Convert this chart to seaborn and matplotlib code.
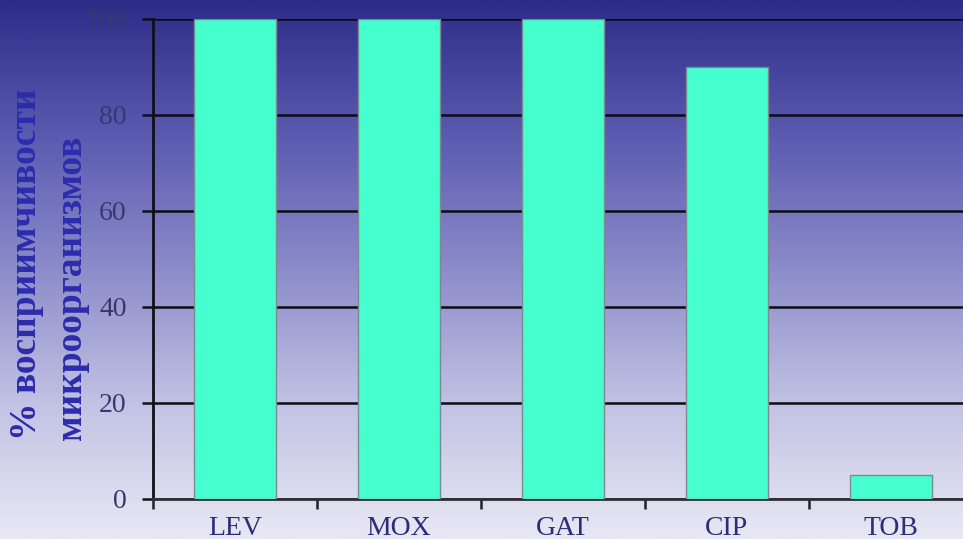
import numpy as np
import pandas as pd
import matplotlib
matplotlib.use("Agg")
import matplotlib.pyplot as plt
from matplotlib.colors import LinearSegmentedColormap
import seaborn as sns

# Susceptibility of isolates to each antibiotic, %
drugs = ["LEV", "MOX", "GAT", "CIP", "TOB"]
susceptible = [100, 100, 100, 90, 5]
y_ticks = [0, 20, 40, 60, 80, 100]
y_label_lines = ["% восприимчивости", "микроорганизмов"]

df = pd.DataFrame({"drug": drugs, "pct": susceptible})

sns.set_theme(style="white")
plt.rcParams["font.family"] = ["Liberation Serif", "DejaVu Serif"]

W, H = 963, 539
fig = plt.figure(figsize=(W / 100, H / 100), dpi=100)

# vertical gradient backdrop across the whole figure
bg = fig.add_axes([0, 0, 1, 1], zorder=-10)
grad_cmap = LinearSegmentedColormap.from_list(
    "bg", ["#2d2d88", "#5a5ab0", "#8c8cca", "#c2c2e4", "#e8e8f4"])
grad = np.linspace(0, 1, 512).reshape(-1, 1)
bg.imshow(grad, aspect="auto", cmap=grad_cmap, extent=[0, 1, 0, 1],
          origin="upper")
bg.set_axis_off()

ax = fig.add_axes([153 / W, 40 / H, 820 / W, 480 / H])
ax.patch.set_alpha(0)

sns.barplot(data=df, x="drug", y="pct", ax=ax, color="#46FFCF",
            saturation=1, width=0.5, edgecolor="#7a8a90", linewidth=1,
            zorder=3)

ax.set_xlim(-0.5, len(drugs) - 0.5)
ax.set_ylim(0, 100)
ax.set_yticks(y_ticks)
ax.set_yticklabels([str(v) for v in y_ticks])

# category labels centred under bars, tick marks on category boundaries
ax.set_xticks(np.arange(len(drugs) + 1) - 0.5)
ax.set_xticklabels([])
ax.set_xticks(np.arange(len(drugs)), minor=True)
ax.set_xticklabels(drugs, minor=True)
ax.tick_params(axis="x", which="major", direction="out", length=7,
               width=1.8, color="#202030", bottom=True)
ax.tick_params(axis="x", which="minor", length=0, pad=12,
               labelsize=20, labelcolor="#2c2c78")
ax.tick_params(axis="y", direction="out", length=8, width=1.8,
               color="#101018", left=True, pad=11, labelsize=20,
               labelcolor="#383870")

ax.grid(axis="y", color="#0c0c14", linewidth=1.8, zorder=1)
ax.set_axisbelow(True)
for side in ("top", "right"):
    ax.spines[side].set_visible(False)
ax.spines["left"].set_color("#101018")
ax.spines["left"].set_linewidth(2)
ax.spines["bottom"].set_color("#30303a")
ax.spines["bottom"].set_linewidth(2)
ax.set_xlabel("")
ax.set_ylabel("")

# two-line rotated axis title
label_kw = dict(rotation=90, ha="center", va="bottom", fontsize=27,
                fontweight="bold", color="#2c2cac")
fig.text(27 / W, 1 - 440 / H, y_label_lines[0], **label_kw)
fig.text(71 / W, 1 - 440 / H, y_label_lines[1], **label_kw)

fig.savefig("out.png", dpi=100)
